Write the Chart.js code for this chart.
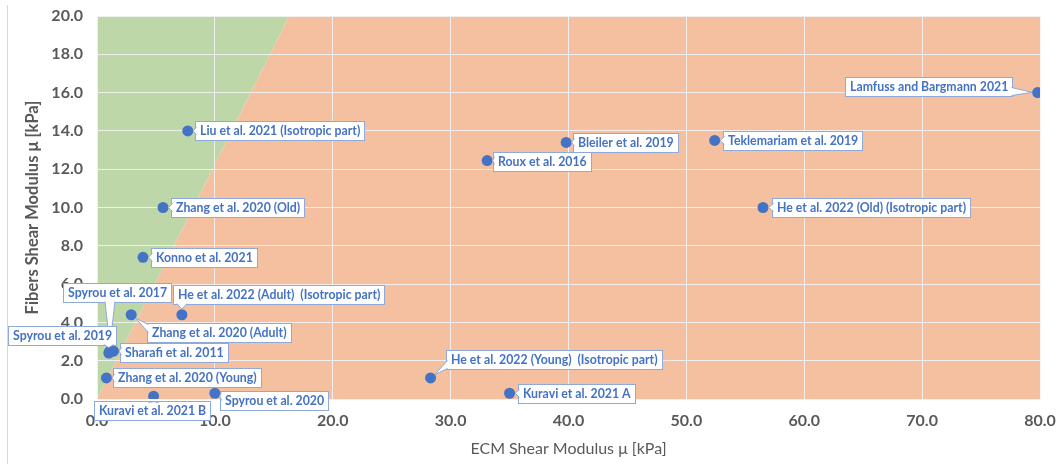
<!DOCTYPE html>
<html>
<head>
<meta charset="utf-8">
<script src="https://cdn.jsdelivr.net/npm/chart.js@4.4.1/dist/chart.umd.min.js"></script>
<style>
    html, body { margin: 0; padding: 0; background: #fff; }
</style>
</head>
<body>
<canvas id="shearChart" width="1057" height="464"></canvas>
<script>
// Studies (label text as printed on the callouts)
const studies = [
    'Lamfuss and Bargmann 2021',
    'Liu et al. 2021 (Isotropic part)',
    'Bleiler et al. 2019',
    'Teklemariam et al. 2019',
    'Roux et al. 2016',
    'He et al. 2022 (Old) (Isotropic part)',
    'Zhang et al. 2020 (Old)',
    'Konno et al. 2021',
    'Spyrou et al. 2017',
    'He et al. 2022 (Adult)  (Isotropic part)',
    'Zhang et al. 2020 (Adult)',
    'Spyrou et al. 2019',
    'Sharafi et al. 2011',
    'Zhang et al. 2020 (Young)',
    'Kuravi et al. 2021 B',
    'Spyrou et al. 2020',
    'He et al. 2022 (Young)  (Isotropic part)',
    'Kuravi et al. 2021 A'
];

// ECM shear modulus [kPa]
const ecm = [79.8, 7.7, 39.8, 52.4, 33.1, 56.5, 5.6, 3.9, 1.1, 7.2, 2.9, 1.0, 1.4, 0.8, 4.8, 10.0, 28.3, 35.0];

// Fibers shear modulus [kPa]
const fibers = [16.0, 14.0, 13.4, 13.5, 12.45, 10.0, 10.0, 7.4, 2.5, 4.4, 4.4, 2.4, 2.5, 1.1, 0.15, 0.3, 1.1, 0.3];

// Boundary between the two shaded regions
const boundaryEcm = [0, 16.3, 80];
const boundaryFibers = [0, 20, 20];

// Axis ticks
const xTicks = [0, 10, 20, 30, 40, 50, 60, 70, 80];
const yTicks = [0, 2, 4, 6, 8, 10, 12, 14, 16, 18, 20];

// Callout placement: [dx, dy, anchor] in pixels from the point
const calloutOffset = [
    [-26, -6, 'right'],
    [7, 0, 'left'],
    [7, 0, 'left'],
    [8, 0, 'left'],
    [6, 1, 'left'],
    [9, 0, 'left'],
    [8, 0, 'left'],
    [8, 0, 'left'],
    [7, -59, 'center'],
    [-9, -20, 'left'],
    [16, 18, 'left'],
    [7, -18, 'right'],
    [6, 1, 'left'],
    [7, 0, 'left'],
    [-2, 14, 'center'],
    [5, 7, 'left'],
    [15, -18, 'left'],
    [8, 0, 'left']
];

const colorPoint = '#4472C4';
const colorBorder = '#8EAADB';
const colorText = '#595959';
const colorGrid = 'rgba(243,243,243,0.9)';

const clamp = (v, a, b) => Math.max(a, Math.min(b, v));

const calloutPlugin = {
    id: 'callouts',
    beforeDraw(chart) {
        // faint frame line on the left edge
        const ctx = chart.ctx;
        ctx.save();
        ctx.strokeStyle = '#d9d9d9';
        ctx.lineWidth = 1;
        ctx.beginPath();
        ctx.moveTo(7.5, 5);
        ctx.lineTo(7.5, 464);
        ctx.stroke();
        ctx.restore();
    },
    afterDatasetsDraw(chart) {
        const ctx = chart.ctx;
        const xs = chart.scales.x;
        const ys = chart.scales.y;
        const r = 5.5;
        ctx.save();
        ctx.font = 'bold 12.3px Lato';
        ctx.textBaseline = 'middle';
        ctx.lineWidth = 1;

        studies.forEach((name, i) => {
            const px = xs.getPixelForValue(ecm[i]);
            const py = ys.getPixelForValue(fibers[i]);
            const [dx, dy, anchor] = calloutOffset[i];
            const w = Math.round(ctx.measureText(name).width + 9);
            const h = 19;
            let left;
            if (anchor === 'left') left = px + dx;
            else if (anchor === 'right') left = px + dx - w;
            else left = px + dx - w / 2;
            left = Math.round(left) + 0.5;
            const top = Math.round(py + dy - h / 2) + 0.5;
            const right = left + w;
            const bottom = top + h;

            // box
            ctx.fillStyle = '#fff';
            ctx.strokeStyle = colorBorder;
            ctx.fillRect(left, top, w, h);
            ctx.strokeRect(left, top, w, h);

            // wedge towards the point
            const outX = Math.max(left - px, px - right, 0);
            const outY = Math.max(top - py, py - bottom, 0);
            const nx = clamp(px, left, right);
            const ny = clamp(py, top, bottom);
            let b1, b2;
            if (outX >= outY) {
                const cy = clamp(ny, top + 5, bottom - 5);
                const ix = nx === left ? 1 : -1;
                b1 = [nx + ix, cy - 4];
                b2 = [nx + ix, cy + 4];
            } else {
                const cx = clamp(nx, left + 6, right - 6);
                const iy = ny === top ? 1 : -1;
                b1 = [cx - 5, ny + iy];
                b2 = [cx + 5, ny + iy];
            }
            const mx = (b1[0] + b2[0]) / 2;
            const my = (b1[1] + b2[1]) / 2;
            const d = Math.hypot(mx - px, my - py) || 1;
            const tip = [px + (mx - px) * r / d, py + (my - py) * r / d];

            ctx.beginPath();
            ctx.moveTo(b1[0], b1[1]);
            ctx.lineTo(tip[0], tip[1]);
            ctx.lineTo(b2[0], b2[1]);
            ctx.closePath();
            ctx.fill();
            ctx.beginPath();
            ctx.moveTo(b1[0], b1[1]);
            ctx.lineTo(tip[0], tip[1]);
            ctx.lineTo(b2[0], b2[1]);
            ctx.stroke();

            ctx.fillStyle = colorPoint;
            ctx.fillText(name, left + 4.5, top + h / 2 + 0.5);
        });
        ctx.restore();
    }
};

new Chart(document.getElementById('shearChart'), {
    type: 'scatter',
    data: {
        datasets: [
            {
                label: 'Studies',
                data: studies.map((s, i) => ({ x: ecm[i], y: fibers[i] })),
                backgroundColor: colorPoint,
                pointRadius: 5.5,
                pointBorderWidth: 0,
                order: 0
            },
            {
                type: 'line',
                label: 'Fibers dominant',
                data: boundaryEcm.map((x, i) => ({ x: x, y: boundaryFibers[i] })),
                fill: 'end',
                backgroundColor: '#BDD7A9',
                borderColor: 'rgba(0,0,0,0)',
                pointRadius: 0,
                order: 1
            },
            {
                type: 'line',
                label: 'ECM dominant',
                data: boundaryEcm.map((x, i) => ({ x: x, y: boundaryFibers[i] })),
                fill: 'start',
                backgroundColor: '#F5C09F',
                borderColor: 'rgba(0,0,0,0)',
                pointRadius: 0,
                order: 2
            }
        ]
    },
    options: {
        responsive: false,
        animation: false,
        events: [],
        layout: { padding: { top: 16, right: 17, left: 0, bottom: 0 } },
        plugins: {
            legend: { display: false },
            tooltip: { enabled: false },
            filler: { drawTime: 'beforeDraw' }
        },
        scales: {
            x: {
                type: 'linear',
                min: 0,
                max: 80,
                afterBuildTicks: (s) => { s.ticks = xTicks.map(v => ({ value: v })); },
                afterFit: (s) => {
                    s.height = 65;
                    s.paddingLeft = 0;
                    s.paddingRight = 0;
                },
                ticks: {
                    callback: (v) => v.toFixed(1),
                    font: { family: 'Lato', size: 16, weight: 'bold' },
                    color: colorText,
                    padding: 12
                },
                grid: { color: colorGrid, drawTicks: false },
                border: { display: false },
                title: {
                    display: true,
                    text: 'ECM Shear Modulus μ [kPa]',
                    font: { family: 'Lato', size: 16 },
                    color: colorText,
                    padding: { top: 0, bottom: 6 }
                }
            },
            y: {
                type: 'linear',
                min: 0,
                max: 20,
                afterBuildTicks: (s) => { s.ticks = yTicks.map(v => ({ value: v })); },
                afterFit: (s) => {
                    s.width = 97;
                    s.paddingTop = 0;
                    s.paddingBottom = 0;
                },
                ticks: {
                    callback: (v) => v.toFixed(1),
                    font: { family: 'Lato', size: 16, weight: 'bold' },
                    color: colorText,
                    padding: 14
                },
                grid: { color: colorGrid, drawTicks: false },
                border: { display: false },
                title: {
                    display: true,
                    text: 'Fibers Shear Modulus μ [kPa]',
                    font: { family: 'Lato', size: 16.5, weight: 'bold' },
                    color: colorText,
                    padding: { top: 23, bottom: 0 }
                }
            }
        }
    },
    plugins: [calloutPlugin]
});
</script>
</body>
</html>
